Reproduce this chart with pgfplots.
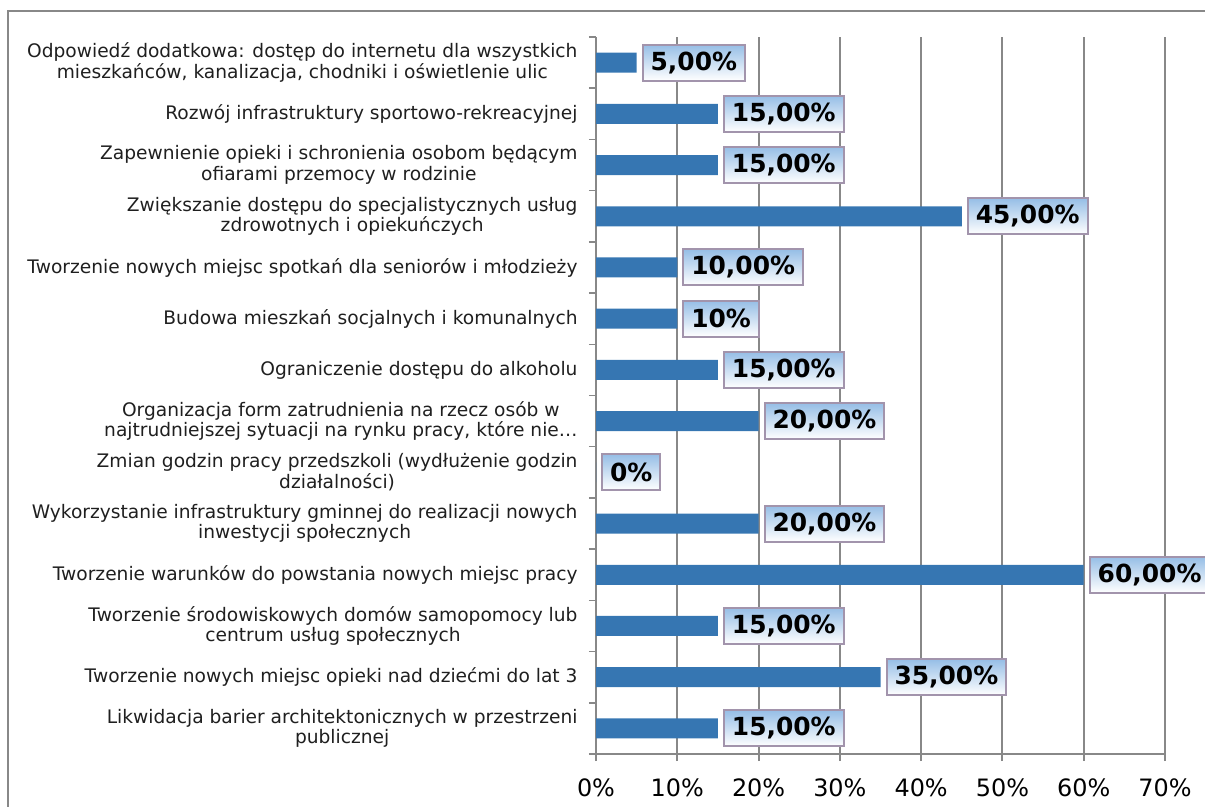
\documentclass[border=0pt]{standalone}
\usepackage{fontspec}
\setmainfont{DejaVu Sans}
\usepackage{pgfplots}
\pgfplotsset{compat=1.18}

\definecolor{barblue}{RGB}{54,118,178}
\definecolor{gridgray}{RGB}{136,136,136}
\definecolor{boxedge}{RGB}{162,148,172}
\definecolor{boxtop}{RGB}{150,190,230}

\begin{document}
\begin{tikzpicture}
% page = 1205 x 807 px, 1px = 1bp, y runs downwards as negative
\useasboundingbox (0,0) rectangle (1205bp,-807bp);
\draw[gridgray, line width=2bp] (8bp,-810bp) -- (8bp,-11bp) -- (1210bp,-11bp);

\begin{axis}[
  at={(596bp,-754bp)}, anchor=south west,
  scale only axis, width=569bp, height=717bp,
  xmin=0, xmax=70, ymin=-0.5, ymax=13.5,
  axis lines*=left,
  axis line style={gridgray, line width=2bp},
  xmajorgrids, grid style={gridgray, line width=2bp},
  xtick={0,10,...,70},
  xticklabels={0\%,10\%,20\%,30\%,40\%,50\%,60\%,70\%},
  xticklabel style={font=\fontsize{24}{28}\selectfont, yshift=-14bp},
  ytick={0,...,13},
  minor ytick={-0.5,0.5,...,13.5},
  tick align=outside,
  major tick length=7bp, minor tick length=7bp,
  major y tick style={draw=none},
  minor y tick style={gridgray, line width=1.5bp},
  major x tick style={gridgray, line width=2bp},
  yticklabel style={align=center, font=\fontsize{18.7}{20.5}\selectfont,
    text=black!88, xshift=-8bp},
  yticklabels={
    {Likwidacja barier architektonicznych w przestrzeni\\publicznej},
    {Tworzenie nowych miejsc opieki nad dziećmi do lat 3},
    {Tworzenie środowiskowych domów samopomocy lub\\centrum usług społecznych},
    {Tworzenie warunków do powstania nowych miejsc pracy},
    {Wykorzystanie infrastruktury gminnej do realizacji nowych\\inwestycji społecznych},
    {Zmian godzin pracy przedszkoli (wydłużenie godzin\\działalności)},
    {Organizacja form zatrudnienia na rzecz osób w\\najtrudniejszej sytuacji na rynku pracy, które nie…},
    {Ograniczenie dostępu do alkoholu},
    {Budowa mieszkań socjalnych i komunalnych},
    {Tworzenie nowych miejsc spotkań dla seniorów i młodzieży},
    {Zwiększanie dostępu do specjalistycznych usług\\zdrowotnych i opiekuńczych},
    {Zapewnienie opieki i schronienia osobom będącym\\ofiarami przemocy w rodzinie},
    {Rozwój infrastruktury sportowo-rekreacyjnej},
    {Odpowiedź dodatkowa: dostęp do internetu dla wszystkich\\mieszkańców, kanalizacja, chodniki i oświetlenie ulic}
  },
  clip=false,
]
\addplot[xbar, bar width=20bp, fill=barblue, draw=none,
  point meta=explicit symbolic,
  nodes near coords,
  every node near coord/.style={anchor=west, xshift=5bp,
    draw=boxedge, line width=2bp,
    top color=boxtop, middle color=boxtop!75!white, bottom color=white,
    font=\fontsize{25}{29}\selectfont\bfseries, text=black,
    inner xsep=8bp, minimum height=36bp}]
coordinates {
  (15,0) [15,00\%]
  (35,1) [35,00\%]
  (15,2) [15,00\%]
  (60,3) [60,00\%]
  (20,4) [20,00\%]
  (0,5) [0\%]
  (20,6) [20,00\%]
  (15,7) [15,00\%]
  (10,8) [10\%]
  (10,9) [10,00\%]
  (45,10) [45,00\%]
  (15,11) [15,00\%]
  (15,12) [15,00\%]
  (5,13) [5,00\%]
};
\end{axis}
\end{tikzpicture}
\end{document}
